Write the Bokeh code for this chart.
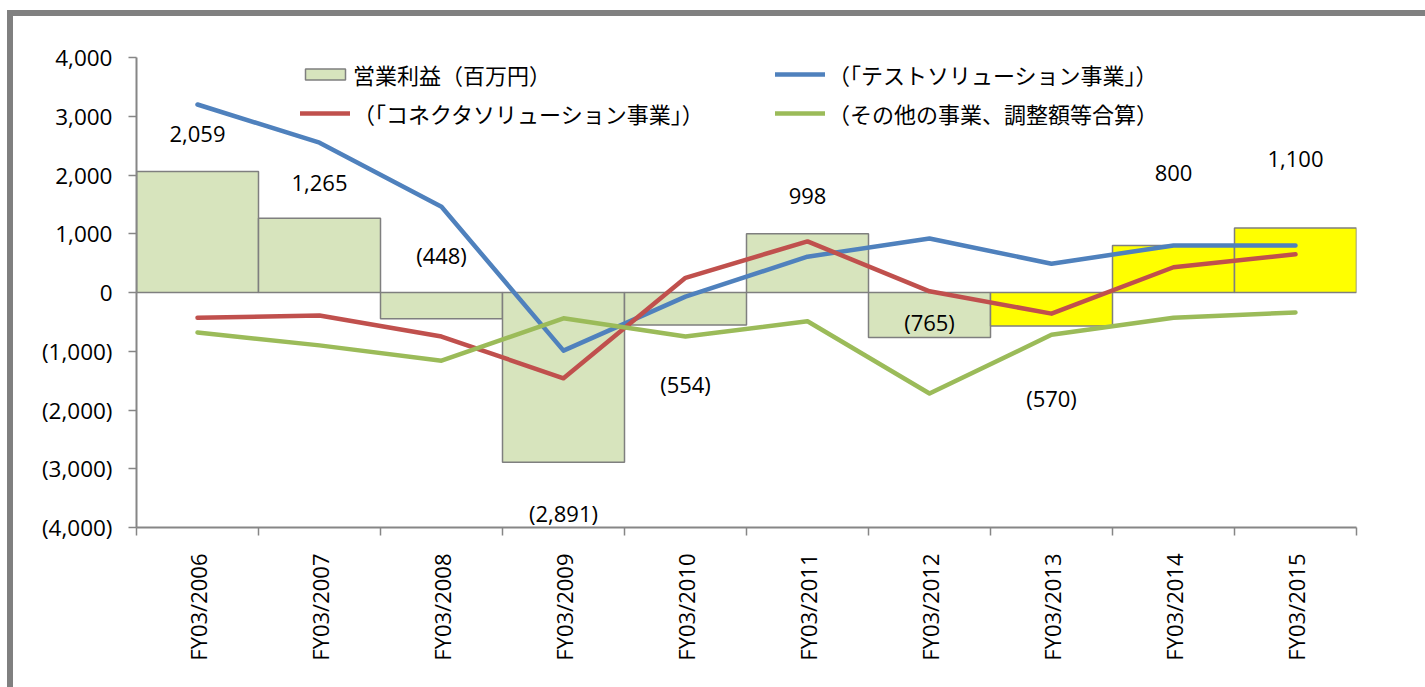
import math
from bokeh.plotting import figure
from bokeh.models import (ColumnDataSource, Legend, LegendItem, FixedTicker,
                          NumeralTickFormatter, Range1d)
from bokeh.core.properties import value
from bokeh.embed import file_html
from bokeh.resources import INLINE

# ---------------- data ----------------
categories = ["FY03/2006", "FY03/2007", "FY03/2008", "FY03/2009", "FY03/2010",
              "FY03/2011", "FY03/2012", "FY03/2013", "FY03/2014", "FY03/2015"]
operating_profit = [2059, 1265, -448, -2891, -554, 998, -765, -570, 800, 1100]
test_solution = [3200, 2550, 1460, -990, -70, 610, 920, 490, 800, 800]
connector_solution = [-430, -390, -750, -1460, 250, 870, 20, -360, 430, 650]
other_adjust = [-680, -900, -1160, -440, -750, -490, -1720, -720, -430, -340]
label_y = [2700, 1860, 630, -3760, -1550, 1650, -510, -1790, 2030, 2280]
y_ticks = [-4000, -3000, -2000, -1000, 0, 1000, 2000, 3000, 4000]

legend_bar = "営業利益（百万円）"
legend_test = "（「テストソリューション事業」）"
legend_conn = "（「コネクタソリューション事業」）"
legend_other = "（その他の事業、調整額等合算）"

# ---------------- styles ----------------
bar_colors = ["#D7E4BD"] * 7 + ["#FFFF00"] * 3
C_BLUE = "#4F81BD"
C_RED = "#C0504D"
C_GREEN = "#9BBB59"
AXIS_GRAY = "#868686"
FONT = "Open Sans"
JFONT = "Noto Sans CJK JP"


def fmt(v):
    s = f"{abs(v):,}"
    return f"({s})" if v < 0 else s


xc = [i + 0.5 for i in range(len(categories))]

src = ColumnDataSource(dict(
    x=xc, profit=operating_profit, test=test_solution, conn=connector_solution,
    other=other_adjust, color=bar_colors, ly=label_y,
    lbl=[fmt(v) for v in operating_profit],
))

p = figure(frame_width=1220, frame_height=470,
           x_range=Range1d(0, len(categories)), y_range=Range1d(-4000, 4000),
           output_backend="svg", toolbar_location=None,
           min_border_left=123, min_border_right=79,
           min_border_top=41, min_border_bottom=170,
           styles={"margin-top": "16px", "margin-left": "13px",
                   "box-shadow": "-6px -6px 0 0 #808080, 0 -6px 0 0 #808080"})
p.outline_line_color = None
p.xgrid.visible = False
p.ygrid.visible = False
p.background_fill_color = "white"

bars = p.vbar(x="x", top="profit", bottom=0, width=1.0, source=src,
              fill_color="color", line_color="#7F7F7F", line_width=1.5)
l_test = p.line(x="x", y="test", source=src, line_color=C_BLUE, line_width=4.5,
                line_join="round", line_cap="round")
l_conn = p.line(x="x", y="conn", source=src, line_color=C_RED, line_width=4.5,
                line_join="round", line_cap="round")
l_other = p.line(x="x", y="other", source=src, line_color=C_GREEN, line_width=4.5,
                 line_join="round", line_cap="round")

p.text(x="x", y="ly", text="lbl", source=src, text_align="center",
       text_baseline="middle", text_font=value(FONT), text_font_size="22px",
       text_color="black")

# y axis
ya = p.yaxis[0]
ya.ticker = FixedTicker(ticks=y_ticks, minor_ticks=[])
ya.formatter = NumeralTickFormatter(format="(0,0)")
ya.axis_line_color = AXIS_GRAY
ya.axis_line_width = 2
ya.major_tick_line_color = AXIS_GRAY
ya.major_tick_line_width = 1.5
ya.major_tick_out = 8
ya.major_tick_in = 0
ya.minor_tick_line_color = None
ya.major_label_text_font = FONT
ya.major_label_text_font_size = "22.5px"
ya.major_label_text_color = "black"
ya.major_label_standoff = 16

# x axis: labels at category centers, ticks at category boundaries
xa = p.xaxis[0]
xa.ticker = FixedTicker(ticks=xc, minor_ticks=list(range(len(categories) + 1)))
xa.major_label_overrides = {c: lab for c, lab in zip(xc, categories)}
xa.major_label_orientation = math.pi / 2
xa.axis_line_color = AXIS_GRAY
xa.axis_line_width = 2
xa.major_tick_line_color = None
xa.minor_tick_line_color = AXIS_GRAY
xa.minor_tick_line_width = 1.5
xa.minor_tick_out = 8
xa.minor_tick_in = 0
xa.major_label_text_font = FONT
xa.major_label_text_font_size = "22px"
xa.major_label_text_color = "black"
xa.major_label_standoff = 18

common = dict(orientation="vertical", padding=0, margin=0, spacing=7,
              border_line_color=None, background_fill_alpha=0,
              label_text_font=JFONT, label_text_font_size="22px",
              label_text_color="black", glyph_width=50, glyph_height=14,
              label_standoff=3, label_height=32)
leg1 = Legend(items=[LegendItem(label=legend_bar, renderers=[bars]),
                     LegendItem(label=legend_conn, renderers=[l_conn])],
              location=(164, 398), **common)
leg2 = Legend(items=[LegendItem(label=legend_test, renderers=[l_test]),
                     LegendItem(label=legend_other, renderers=[l_other])],
              location=(639, 398), **common)
p.add_layout(leg1, "center")
p.add_layout(leg2, "center")

html = file_html(p, INLINE)
html = html.replace("<head>", "<head><style>html, body { overflow: hidden; }</style>", 1)
open("out.html", "w").write(html)
